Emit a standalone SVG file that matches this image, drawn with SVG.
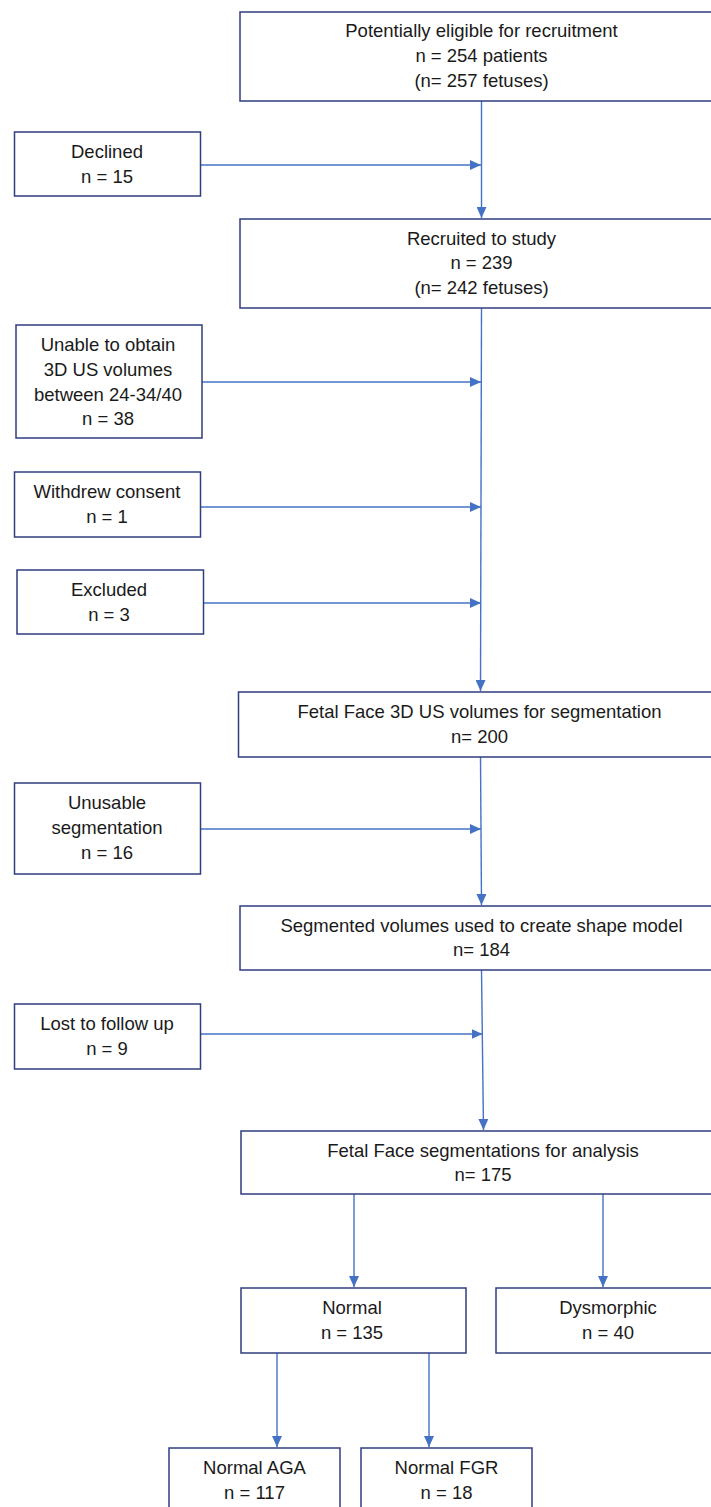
<svg xmlns="http://www.w3.org/2000/svg" width="711" height="1507" viewBox="0 0 711 1507">
<style>
.box{fill:#ffffff;stroke:#2F3E7E;stroke-width:1.5}
.t{font-family:"Liberation Sans",Arial,sans-serif;font-size:18.5px;fill:#1a1a1a;text-anchor:middle}
.c{fill:none;stroke:#4472C4;stroke-width:1.4}
</style>
<defs>
<marker id="ah" markerUnits="userSpaceOnUse" markerWidth="11" markerHeight="10" refX="11" refY="5" orient="auto">
<path d="M0,0 L11,5 L0,10 z" fill="#4472C4"/>
</marker>
</defs>
<rect width="711" height="1507" fill="#ffffff"/>
<g id="connectors">
<path class="c" d="M481.5,101 L481.5,218" marker-end="url(#ah)"/>
<path class="c" d="M200.5,165 L481,165" marker-end="url(#ah)"/>
<path class="c" d="M481.5,308 L480.5,691" marker-end="url(#ah)"/>
<path class="c" d="M202,382 L481,382" marker-end="url(#ah)"/>
<path class="c" d="M200.5,507 L481,507" marker-end="url(#ah)"/>
<path class="c" d="M203.5,603 L481,603" marker-end="url(#ah)"/>
<path class="c" d="M480.5,757 L481.5,905" marker-end="url(#ah)"/>
<path class="c" d="M200.5,829 L481,829" marker-end="url(#ah)"/>
<path class="c" d="M481.5,970 L483.5,1130" marker-end="url(#ah)"/>
<path class="c" d="M200.5,1034 L482.5,1034" marker-end="url(#ah)"/>
<path class="c" d="M354,1194 L354,1287" marker-end="url(#ah)"/>
<path class="c" d="M603,1193 L603,1287" marker-end="url(#ah)"/>
<path class="c" d="M277,1353 L277,1447" marker-end="url(#ah)"/>
<path class="c" d="M429,1353 L429,1447" marker-end="url(#ah)"/>
</g>
<g id="n_eligible">
<rect class="box" x="240" y="12" width="484" height="89"/>
<text class="t" x="481.5" y="37">Potentially eligible for recruitment</text>
<text class="t" x="481.5" y="62">n = 254 patients</text>
<text class="t" x="481.5" y="87">(n= 257 fetuses)</text>
</g>
<g id="n_declined">
<rect class="box" x="14.5" y="132" width="186" height="64"/>
<text class="t" x="107" y="158">Declined</text>
<text class="t" x="107" y="183">n = 15</text>
</g>
<g id="n_recruited">
<rect class="box" x="240" y="219" width="484" height="89"/>
<text class="t" x="481.5" y="245">Recruited to study</text>
<text class="t" x="481.5" y="269">n = 239</text>
<text class="t" x="481.5" y="294">(n= 242 fetuses)</text>
</g>
<g id="n_unable">
<rect class="box" x="16" y="325" width="186" height="113"/>
<text class="t" x="108" y="351">Unable to obtain</text>
<text class="t" x="108" y="376">3D US volumes</text>
<text class="t" x="108" y="401">between 24-34/40</text>
<text class="t" x="108" y="425">n = 38</text>
</g>
<g id="n_withdrew">
<rect class="box" x="14.5" y="472" width="186" height="65"/>
<text class="t" x="107" y="498">Withdrew consent</text>
<text class="t" x="107" y="523">n = 1</text>
</g>
<g id="n_excluded">
<rect class="box" x="17" y="570" width="186.5" height="64"/>
<text class="t" x="109" y="596">Excluded</text>
<text class="t" x="109" y="621">n = 3</text>
</g>
<g id="n_fetal3d">
<rect class="box" x="238.5" y="692" width="484" height="65"/>
<text class="t" x="479.5" y="718">Fetal Face 3D US volumes for segmentation</text>
<text class="t" x="479.5" y="743">n= 200</text>
</g>
<g id="n_unusable">
<rect class="box" x="14.5" y="783" width="186" height="91"/>
<text class="t" x="107" y="809">Unusable</text>
<text class="t" x="107" y="834">segmentation</text>
<text class="t" x="107" y="859">n = 16</text>
</g>
<g id="n_segmented">
<rect class="box" x="240" y="906" width="484" height="64"/>
<text class="t" x="481.5" y="932">Segmented volumes used to create shape model</text>
<text class="t" x="481.5" y="956">n= 184</text>
</g>
<g id="n_lost">
<rect class="box" x="14.5" y="1004" width="186" height="65"/>
<text class="t" x="107" y="1030">Lost to follow up</text>
<text class="t" x="107" y="1055">n = 9</text>
</g>
<g id="n_analysis">
<rect class="box" x="241" y="1131" width="484" height="63"/>
<text class="t" x="483" y="1157">Fetal Face segmentations for analysis</text>
<text class="t" x="483" y="1181">n= 175</text>
</g>
<g id="n_normal">
<rect class="box" x="241" y="1288" width="225" height="65"/>
<text class="t" x="352" y="1314">Normal</text>
<text class="t" x="352" y="1339">n = 135</text>
</g>
<g id="n_dysmorphic">
<rect class="box" x="496" y="1288" width="224" height="65"/>
<text class="t" x="608" y="1314">Dysmorphic</text>
<text class="t" x="608" y="1339">n = 40</text>
</g>
<g id="n_aga">
<rect class="box" x="169" y="1448" width="171" height="70"/>
<text class="t" x="254.5" y="1474">Normal AGA</text>
<text class="t" x="254.5" y="1499">n = 117</text>
</g>
<g id="n_fgr">
<rect class="box" x="361" y="1448" width="171" height="70"/>
<text class="t" x="446.5" y="1474">Normal FGR</text>
<text class="t" x="446.5" y="1499">n = 18</text>
</g>
</svg>
